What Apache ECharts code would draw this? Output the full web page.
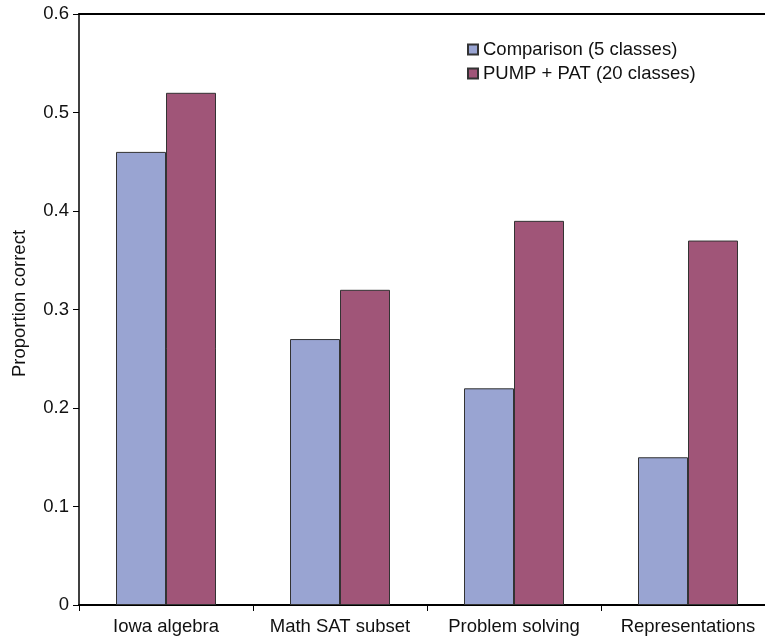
<!DOCTYPE html>
<html>
<head>
    <meta charset="utf-8">
    <title>Proportion correct</title>
    <script src="https://cdn.jsdelivr.net/npm/echarts@6/dist/echarts.min.js"></script>
</head>
<body style="margin:0">
    <div id="main" style="width:765px;height:638px;"></div>
    <script type="text/javascript">
        // data
        var categories = ['Iowa algebra', 'Math SAT subset', 'Problem solving', 'Representations'];
        var comparison = [0.46, 0.27, 0.22, 0.15];
        var pumpPat = [0.52, 0.32, 0.39, 0.37];
        var seriesNames = ['Comparison (5 classes)', 'PUMP + PAT (20 classes)'];

        var font = 'Liberation Sans, Arial, sans-serif';
        var myChart = echarts.init(document.getElementById('main'));

        var option = {
            animation: false,
            textStyle: { fontFamily: font },
            grid: { left: 79, right: -10, top: 14, bottom: 33, outerBoundsMode: 'none', containLabel: false },
            legend: {
                orient: 'vertical',
                left: 462,
                top: 35,
                itemWidth: 10,
                itemHeight: 10,
                itemGap: 5,
                icon: 'rect',
                data: seriesNames,
                textStyle: { fontSize: 18.5, color: '#111', fontFamily: font, padding: [0, 0, 0, 0] }
            },
            xAxis: [{
                type: 'category',
                data: categories,
                axisLine: { lineStyle: { color: '#000', width: 2 } },
                axisTick: { show: true, interval: 0, length: 6, lineStyle: { color: '#000', width: 1 } },
                axisLabel: { interval: 0, hideOverlap: false, fontSize: 18.5, color: '#111', margin: 12 }
            }, {
                type: 'category',
                position: 'top',
                data: categories,
                axisLine: { lineStyle: { color: '#000', width: 2 } },
                axisTick: { show: false },
                axisLabel: { show: false }
            }],
            yAxis: {
                type: 'value',
                min: 0,
                max: 0.6,
                interval: 0.1,
                name: 'Proportion correct',
                nameLocation: 'middle',
                nameGap: 50,
                nameTextStyle: { fontSize: 18.5, color: '#111', padding: [0, 0, 0, 12] },
                axisLine: { show: true, lineStyle: { color: '#000', width: 1.5 } },
                axisTick: { show: true, length: 6, lineStyle: { color: '#000', width: 1 } },
                splitLine: { show: false },
                axisLabel: { fontSize: 18.5, color: '#111', margin: 10,
                    formatter: function (v) { return v === 0 ? '0' : v.toFixed(1); } }
            },
            series: [{
                name: seriesNames[0],
                type: 'bar',
                data: comparison,
                barWidth: 50,
                barGap: '0%',
                itemStyle: { color: '#99A4D2', borderColor: '#333', borderWidth: 1 }
            }, {
                name: seriesNames[1],
                type: 'bar',
                data: pumpPat,
                barWidth: 50,
                barGap: '0%',
                itemStyle: { color: '#A05578', borderColor: '#333', borderWidth: 1 }
            }]
        };

        myChart.setOption(option);
    </script>
</body>
</html>
